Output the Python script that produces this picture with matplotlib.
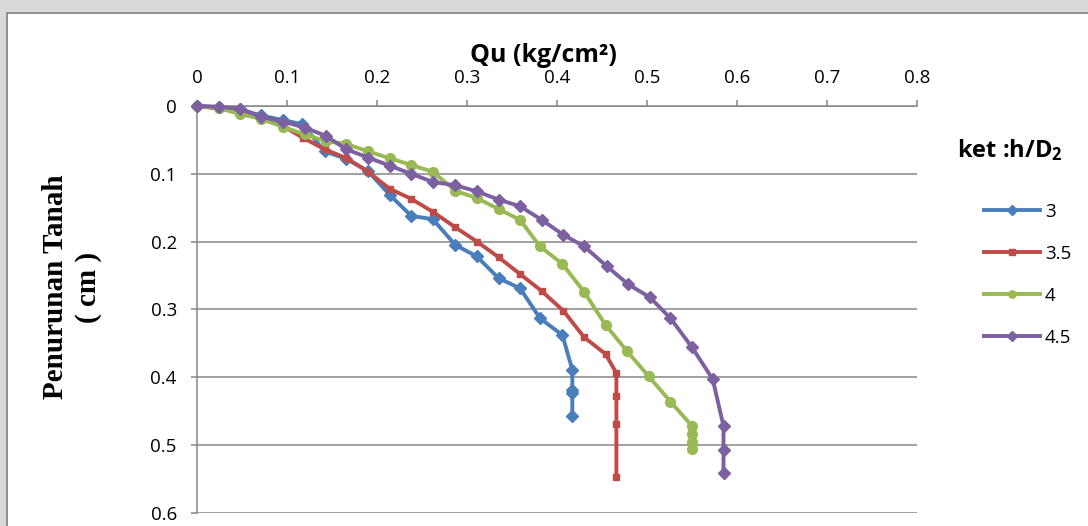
"""Load-settlement curves for several h/D2 ratios."""

import matplotlib
matplotlib.use("Agg")
import matplotlib.pyplot as plt
from matplotlib.patches import Rectangle

# Qu (kg/cm2) against settlement (cm), one pair of lists per h/D2 ratio
qu_3 = [0, 0.024, 0.048, 0.071, 0.096, 0.117, 0.142, 0.166, 0.190, 0.214, 0.238,
        0.262, 0.287, 0.311, 0.335, 0.359, 0.381, 0.406, 0.417, 0.417, 0.417, 0.417]
settle_3 = [0, 0.002, 0.005, 0.014, 0.021, 0.027, 0.067, 0.078, 0.096, 0.131, 0.162,
            0.167, 0.205, 0.222, 0.254, 0.269, 0.313, 0.338, 0.389, 0.419, 0.424, 0.458]

qu_35 = [0, 0.024, 0.048, 0.071, 0.096, 0.118, 0.142, 0.166, 0.190, 0.214, 0.238, 0.262,
         0.287, 0.311, 0.335, 0.359, 0.383, 0.407, 0.430, 0.454, 0.466, 0.466, 0.466, 0.466]
settle_35 = [0, 0.004, 0.008, 0.016, 0.030, 0.047, 0.064, 0.077, 0.097, 0.122, 0.137, 0.156,
             0.179, 0.200, 0.223, 0.248, 0.273, 0.302, 0.341, 0.366, 0.394, 0.428, 0.469, 0.548]

qu_4 = [0, 0.024, 0.048, 0.071, 0.096, 0.120, 0.143, 0.166, 0.190, 0.214, 0.238, 0.262, 0.287,
        0.311, 0.335, 0.359, 0.381, 0.406, 0.430, 0.454, 0.478, 0.502, 0.526, 0.550, 0.550,
        0.550, 0.550]
settle_4 = [0, 0.003, 0.012, 0.019, 0.031, 0.042, 0.052, 0.056, 0.067, 0.077, 0.087, 0.097,
            0.125, 0.136, 0.152, 0.168, 0.207, 0.233, 0.274, 0.323, 0.362, 0.399, 0.436, 0.472,
            0.484, 0.496, 0.506]

qu_45 = [0, 0.024, 0.048, 0.071, 0.096, 0.120, 0.143, 0.166, 0.190, 0.214, 0.238, 0.262, 0.287,
         0.311, 0.335, 0.359, 0.383, 0.407, 0.430, 0.455, 0.479, 0.503, 0.526, 0.550, 0.573,
         0.585, 0.585, 0.585]
settle_45 = [0, 0.001, 0.004, 0.016, 0.023, 0.032, 0.044, 0.064, 0.076, 0.088, 0.100, 0.112,
             0.117, 0.126, 0.138, 0.148, 0.168, 0.190, 0.207, 0.236, 0.263, 0.282, 0.313, 0.356,
             0.403, 0.472, 0.507, 0.541]

ratio_labels = ["3", "3.5", "4", "4.5"]
x_ticks = [0, 0.1, 0.2, 0.3, 0.4, 0.5, 0.6, 0.7, 0.8]
x_tick_labels = ["0", "0.1", "0.2", "0.3", "0.4", "0.5", "0.6", "0.7", "0.8"]
y_ticks = [0, 0.1, 0.2, 0.3, 0.4, 0.5, 0.6]
y_tick_labels = ["0", "0.1", "0.2", "0.3", "0.4", "0.5", "0.6"]

W, H = 1088, 526
GRID = "#868686"
SANS = "Open Sans"

plt.rcParams["font.family"] = SANS
plt.rcParams["mathtext.fontset"] = "custom"
plt.rcParams["mathtext.rm"] = SANS
plt.rcParams["mathtext.bf"] = SANS + ":bold"

fig = plt.figure(figsize=(W / 100, H / 100), dpi=100, facecolor="#d9d9d9")

# white chart area with a grey frame, kept behind the axes
fig.add_artist(Rectangle((7 / W, -0.1), 1.2, 1.1 - 13 / H, transform=fig.transFigure,
                         facecolor="white", edgecolor="#7f7f7f", linewidth=1.2,
                         zorder=-5))

ax = fig.add_axes([197 / W, 1 - 512.7 / H, 720 / W, 406.7 / H])
ax.patch.set_alpha(0)

series = [
    (qu_3, settle_3, "#4a7ebb", "D", 6.5),
    (qu_35, settle_35, "#be4b48", "s", 5.0),
    (qu_4, settle_4, "#98b954", "o", 7.0),
    (qu_45, settle_45, "#7d60a0", "D", 6.5),
]
handles = []
for (qu, settle, color, marker, ms), label in zip(series, ratio_labels):
    line, = ax.plot(qu, settle, color=color, lw=2.8, marker=marker, ms=ms,
                    markeredgecolor=color, label=label, clip_on=False, zorder=3)
    handles.append(line)

ax.set_xlim(0, 0.8)
ax.set_ylim(0.6, 0)
ax.xaxis.tick_top()
ax.set_xticks(x_ticks)
ax.set_xticklabels(x_tick_labels)
ax.set_yticks(y_ticks)
ax.set_yticklabels(y_tick_labels)
ax.tick_params(axis="both", colors=GRID, length=4.5, width=1.1, labelsize=13.5,
               labelcolor="black")
ax.tick_params(axis="x", pad=9)
ax.tick_params(axis="y", pad=10)
ax.grid(axis="y", color=GRID, lw=1.1)
ax.set_axisbelow(True)
for side in ("right", "bottom"):
    ax.spines[side].set_visible(False)
for side in ("left", "top"):
    ax.spines[side].set_color(GRID)
    ax.spines[side].set_linewidth(1.1)

fig.text(543 / W, 1 - 55 / H, "Qu (kg/cm²)", ha="center", va="center",
         fontsize=18, fontweight="bold")
fig.text(72 / W, 1 - 287 / H, "Penurunan Tanah\n( cm )", ha="center", va="center",
         rotation=90, fontsize=21, fontweight="bold", family="Liberation Serif",
         linespacing=1.25)

fig.text(1010 / W, 1 - 150 / H, r"ket :h/$\mathbf{D_2}$", ha="center", va="center",
         fontsize=17, fontweight="bold")
ax.legend(handles=handles, loc="upper left", bbox_to_anchor=(984 / W, 1 - 203 / H),
          bbox_transform=fig.transFigure, frameon=False, fontsize=13.5,
          handlelength=3.0, handletextpad=0.25, labelspacing=1.28, borderpad=0,
          borderaxespad=0, markerscale=0.75)

fig.savefig("out.png", dpi=100, facecolor=fig.get_facecolor())
plt.close(fig)
